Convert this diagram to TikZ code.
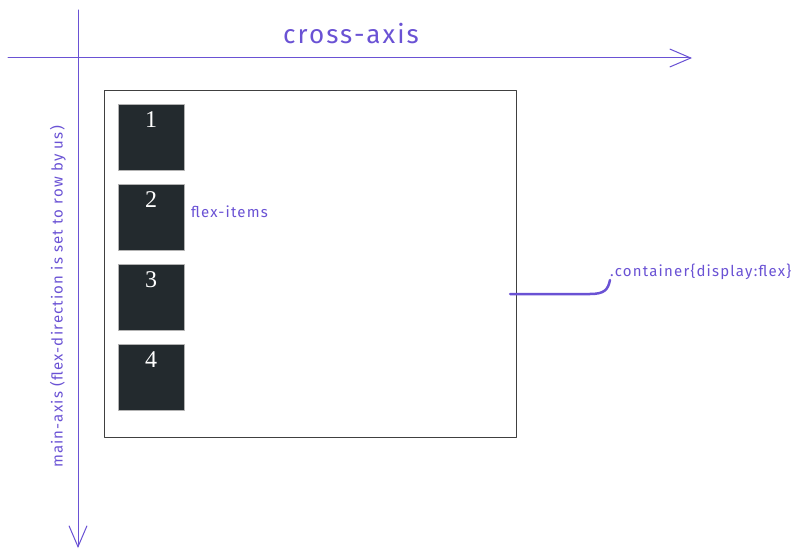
\documentclass[tikz,border=0pt]{standalone}
\usepackage{fontspec}
\setmainfont{Liberation Serif}
\newfontfamily\handfont[LetterSpace=8]{Fira Sans}
\usetikzlibrary{arrows.meta,positioning}
\definecolor{ink}{RGB}{106,82,212}
\definecolor{itemfill}{RGB}{35,42,46}
\begin{document}
\begin{tikzpicture}[x=1pt, y=-1pt, line join=round, line cap=round,
	>={Straight Barb[length=21pt,width=18pt,line width=1pt]},
	axis/.style={ink, line width=1pt, ->},
	hand/.style={ink, font=\handfont\fontsize{15}{15}\selectfont, inner sep=0pt},
	itembox/.style={draw=gray!60, fill=itemfill, minimum size=66pt, inner sep=0pt}]
	\useasboundingbox (0,0) rectangle (800,553);
	\path
	(8,58) coordinate (XL)
	(692,58) coordinate (XR)
	(78,10) coordinate (YT)
	(78,548) coordinate (YB)
	(510,294) coordinate (C0);
	% axes
	\draw[axis] (XL)--(XR);
	\draw[axis] (YT)--(YB);
	\node[hand, font=\handfont\fontsize{26}{26}\selectfont] (cross) at (351,34) {cross-axis};
	\node[hand, rotate=90] (main) at (58,297) {main-axis (flex-direction is set to row by us)};
	% container and items
	\node[draw=black!75, line width=0.8pt, minimum width=412pt, minimum height=347pt, inner sep=0pt] (box) at (310,263.5) {};
	\foreach \n/\y in {1/137, 2/217, 3/297, 4/377}
	{
		\node[itembox] (i\n) at (151,\y) {};
		\node[white, font=\fontsize{24}{24}\selectfont, inner sep=0pt] (n\n) at (151,\y-17) {\n};
	}
	\node[hand, anchor=west] (items) at (191,212) {flex-items};
	\node[hand, anchor=south west] (cont) at (610,280) {.container\{display:flex\}};
	\draw[ink, line width=2.5pt] (C0) -- (590,294) .. controls (604,294) and (608,290) .. (cont.south west);
\end{tikzpicture}
\end{document}
